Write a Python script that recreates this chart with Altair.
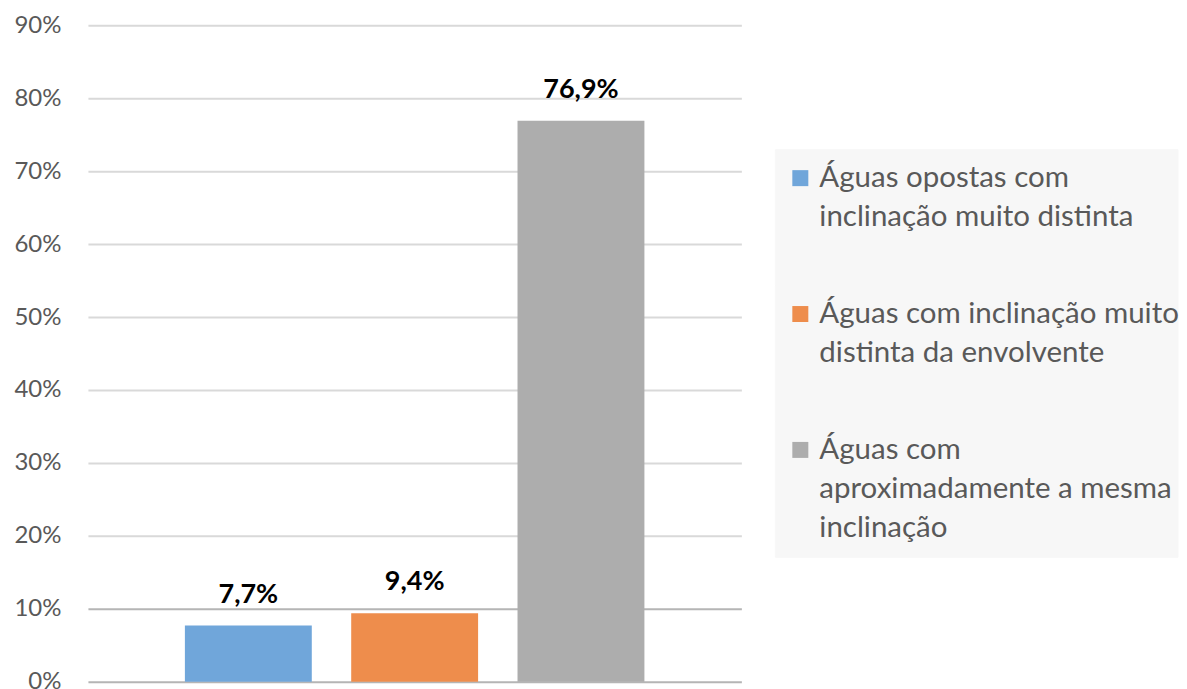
import altair as alt
import pandas as pd

# ---- data ----
series = [
    "Águas opostas com\ninclinação muito distinta",
    "Águas com inclinação muito\ndistinta da envolvente",
    "Águas com\naproximadamente a mesma\ninclinação",
]
values = [0.077, 0.094, 0.769]
colors = ["#70a6da", "#ee8d4c", "#adadad"]
y_ticks = [0.0, 0.1, 0.2, 0.3, 0.4, 0.5, 0.6, 0.7, 0.8, 0.9]

df = pd.DataFrame({"serie": series, "valor": values})
leg_df = pd.DataFrame({"serie": series})

FONT = "Lato"

color = alt.Color("serie:N", scale=alt.Scale(domain=series, range=colors), legend=None)
x = alt.X("serie:N", sort=series, axis=None,
          scale=alt.Scale(paddingInner=0.237, paddingOuter=0.583))
y = alt.Y("valor:Q",
          scale=alt.Scale(domain=[0, 0.9], nice=False, zero=True),
          axis=alt.Axis(values=y_ticks, format=".0%", title=None, domain=False,
                        ticks=False, labelFont=FONT, labelFontSize=24,
                        labelColor="#595959", labelPadding=27,
                        minExtent=75, maxExtent=75,
                        gridColor={"condition": {"test": "datum.value <= 0.1", "value": "#b5b5b5"},
                                   "value": "#d9d9d9"},
                        gridWidth=2))

bars = alt.Chart(df).mark_bar().encode(x=x, y=y, color=color)
labels = alt.Chart(df).transform_calculate(
    rotulo="replace(format(datum.valor, '.1%'), '.', ',')"
).mark_text(baseline="alphabetic", dy=-23, font=FONT, fontWeight="bold",
            fontSize=27, color="#000000").encode(x=x, y=y, text="rotulo:N")

main = alt.layer(bars, labels).properties(width=654, height=657)

# ---- legend panel (same height as the plot, boxed rows of a band scale) ----
ly = alt.Y("serie:N", sort=series, axis=None,
           scale=alt.Scale(paddingInner=0, paddingOuter=0.9154))
box = alt.Chart(leg_df).mark_rect(
    color="#f7f7f7", stroke="#f7f7f7", strokeWidth=1
).encode(y=ly)
sym = alt.Chart(leg_df).mark_square(
    size=256, opacity=1, yOffset=-39.5
).encode(x=alt.value(25), y=ly, color=color)
txt = alt.Chart(leg_df).mark_text(
    align="left", baseline="alphabetic", lineBreak="\n", lineHeight=39,
    dy=-30.5, x=44, font=FONT, fontSize=29.5, color="#595959"
).encode(y=ly, text="serie:N")
legend = alt.layer(box, sym, txt).properties(width=403, height=657)

chart = alt.hconcat(main, legend, spacing=34, bounds="flush").resolve_scale(
    x="independent", y="independent"
).properties(
    padding={"left": 5, "top": 5, "right": 0, "bottom": 0},
    background="white",
).configure_view(stroke=None)

chart.save("out.html", embed_options={"renderer": "svg", "actions": False})
